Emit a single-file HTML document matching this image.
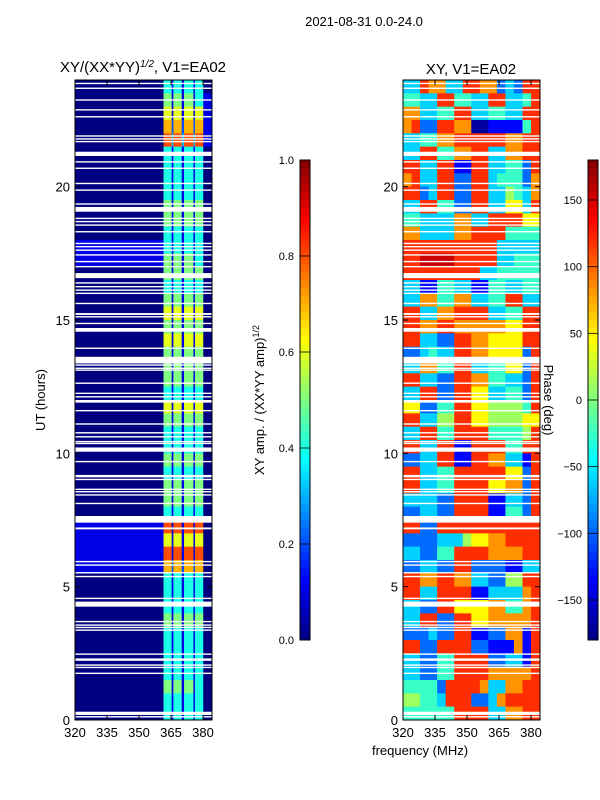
<!DOCTYPE html>
<html><head><meta charset="utf-8">
<style>
html,body{margin:0;padding:0;background:#fff;}
svg{display:block;font-family:"Liberation Sans","DejaVu Sans",sans-serif;}
</style></head>
<body>
<svg id="fig" width="600" height="800" viewBox="0 0 600 800" xmlns="http://www.w3.org/2000/svg">
<text x="364" y="26" font-size="13" text-anchor="middle">2021-08-31 0.0-24.0</text>
<text x="143" y="72" font-size="15" text-anchor="middle">XY/(XX*YY)<tspan baseline-shift="super" font-size="10" font-style="italic">1/2</tspan>, V1=EA02</text>
<text x="471" y="74" font-size="15" text-anchor="middle">XY, V1=EA02</text>
<text transform="translate(45,400) rotate(-90)" font-size="13" text-anchor="middle">UT (hours)</text>
<text x="420" y="755" font-size="13" text-anchor="middle">frequency (MHz)</text>
<text transform="translate(264,400) rotate(-90)" font-size="13" text-anchor="middle">XY amp. / (XX*YY amp)<tspan baseline-shift="super" font-size="9">1/2</tspan></text>
<text transform="translate(544,400) rotate(90)" font-size="13" text-anchor="middle">Phase (deg)</text>
<g id="left"></g>
<g id="right"></g>
<g id="cb1"></g>
<g id="cb2"></g>
</svg>
<script>
const NS="http://www.w3.org/2000/svg";
// ---- data ----
const ampFreqEdges=[320,361.5,365.3,366.1,370,371.1,375.5,376.2,380.1,384.2];
const ampRows=[ // t=24 down to 0, half-hour rows, digit/10 = amplitude
"041414140","051515141","061616161","072727271","083838381","041414140",
"041414140","041414140","041414140","051515150","051515150","041414140",
"141414140","151515140","051515150","041414140","051515150","061616160",
"051515150","061616160","051515150","051515150","051515150","041414140",
"061616160","051515150","041414140","041414140","051515150","041414140",
"051515150","051515150","041414140","181818180","161616160","181818180",
"172727270","041414140","041414140","041414140","051515150","041414140",
"041414140","041414140","041414140","051515140","041414140","041414140"];
const phaseFreqEdges=[320,324,328,332,336,340,344,348,352,356,360,364,368,372,376,380,384.2];
const phaseRows=[ // digit d -> phase bin (0 = -180 ... 9 = +180)
"3387733887723288","4433884433883348","7733448833443388","7822887700111148",
"3344778888887788","3388447788337788","8833881188334428","7833882288344427",
"8823882288335437","3388442288336638","4433337733888866","7733337788884444",
"8888888888833333","8899998888833444","8888888883344444","3311443311443344",
"3377447733448833","8833778888334488","8877887777776688","8833228877666688",
"2234338877666628","3377448833446628","8833228877443328","3388228866334428",
"6622448866555548","8833558866555566","3388448888444458","8833881188884488",
"2233881188773318","8833448888886628","8833448888667728","3333228888113328",
"2233228888114428","8822888888888888","2222333566778888","3322448888777788",
"2233228822221133","8877887733225588","8833888811333378","3322886666774478",
"3388228866777778","2223228811227718","8822888822111718","3322448888223318",
"3322448888777778","4444288887337788","5544388822378888","4444448888337788"];
const flagLines=[23.87,23.69,23.25,22.88,22.62,21.9,21.79,21.69,20.93,20.69,20.12,19.87,19.35,
18.81,18.69,18.56,18.31,17.87,17.75,17.62,17.44,17.19,17.0,16.39,16.25,16.12,16.0,15.62,15.12,
14.87,13.94,13.31,13.19,13.12,12.63,12.25,12.12,11.6,11.1,10.77,10.62,10.44,10.37,9.69,9.02,
8.65,8.56,8.44,8.12,5.94,5.81,5.52,5.38,4.56,3.69,3.56,3.47,3.37,2.47,2.06,1.97,1.75,0.12];
const flagBands=[[21.15,21.31],[19.06,19.24],[16.57,16.76],[15.19,15.26],[14.56,14.7],[13.37,13.62],
[11.9,12.0],[10.06,10.22],[9.1,9.19],[7.4,7.65],[7.15,7.22],[4.25,4.44],[2.22,2.31],[0.19,0.31]];
const xTicks=[320,335,350,365,380];
const yTicks=[0,5,10,15,20];
const ampTicks=[0.0,0.2,0.4,0.6,0.8,1.0];
const phaseTicks=[-150,-100,-50,0,50,100,150];
// ---- helpers ----
function jet(v){v=Math.max(0,Math.min(1,v));const c=x=>Math.round(255*Math.max(0,Math.min(1,x)));
return `rgb(${c(1.5-Math.abs(4*v-3))},${c(1.5-Math.abs(4*v-2))},${c(1.5-Math.abs(4*v-1))})`;}
function el(tag,attrs,parent){const e=document.createElementNS(NS,tag);for(const k in attrs)e.setAttribute(k,attrs[k]);parent.appendChild(e);return e;}
const yOf=t=>720-(t/24)*640;
function panel(g,x0,edges,rows,valFn){
  const xOf=f=>x0+(f-320)/(384.2-320)*137;
  rows.forEach((row,i)=>{
    const t1=24-i*0.5,t0=t1-0.5;
    for(let j=0;j<edges.length-1;j++){
      const r=el('rect',{x:xOf(edges[j]),y:yOf(t1),width:xOf(edges[j+1])-xOf(edges[j])+0.3,height:yOf(t0)-yOf(t1)+0.3,fill:jet(valFn(+row[j]))},g);
      
      
    }
  });
  flagLines.forEach(t=>{const r=el('rect',{x:x0,y:yOf(t)-0.7,width:137,height:1.4,fill:'#fff'},g);
    
    });
  flagBands.forEach(b=>{const r=el('rect',{x:x0,y:yOf(b[1]),width:137,height:yOf(b[0])-yOf(b[1]),fill:'#fff'},g);
    
    });
  el('rect',{x:x0,y:80,width:137,height:640,fill:'none',stroke:'#000','stroke-width':1},g);
  xTicks.forEach(f=>{const x=xOf(f);
    el('line',{x1:x,y1:720,x2:x,y2:715,stroke:'#000'},g);el('line',{x1:x,y1:80,x2:x,y2:85,stroke:'#000'},g);
    const tx=el('text',{x:x,y:737,'font-size':13,'text-anchor':'middle'},g);tx.textContent=f;
    
    });
  yTicks.forEach(t=>{const y=yOf(t);
    el('line',{x1:x0,y1:y,x2:x0+5,y2:y,stroke:'#000'},g);el('line',{x1:x0+137,y1:y,x2:x0+132,y2:y,stroke:'#000'},g);
    const tx=el('text',{x:x0-5,y:y+5,'font-size':13,'text-anchor':'end'},g);tx.textContent=t;
    
    });
}
panel(document.getElementById('left'),75,ampFreqEdges,ampRows,d=>d/10);
panel(document.getElementById('right'),403,phaseFreqEdges,phaseRows,d=>d/10+0.03);
function colorbar(g,x0,lo,hi,ticks,fmt){
  for(let i=0;i<120;i++){el('rect',{x:x0,y:160+i*4,width:10,height:4.3,fill:jet(1-(i+0.5)/120)},g);}
  el('rect',{x:x0,y:160,width:10,height:480,fill:'none',stroke:'#000'},g);
  ticks.forEach(v=>{const y=640-(v-lo)/(hi-lo)*480;
    el('line',{x1:x0,y1:y,x2:x0+10,y2:y,stroke:'#000','stroke-width':0.8},g);
    const tx=el('text',{x:x0-6,y:y+4,'font-size':11,'text-anchor':'end'},g);tx.textContent=fmt(v);
    
    });
}
colorbar(document.getElementById('cb1'),300,0,1,ampTicks,v=>v.toFixed(1));
colorbar(document.getElementById('cb2'),588,-180,180,phaseTicks,v=>v<0?'\u2212'+Math.abs(v):String(v));
</script>
</body></html>
